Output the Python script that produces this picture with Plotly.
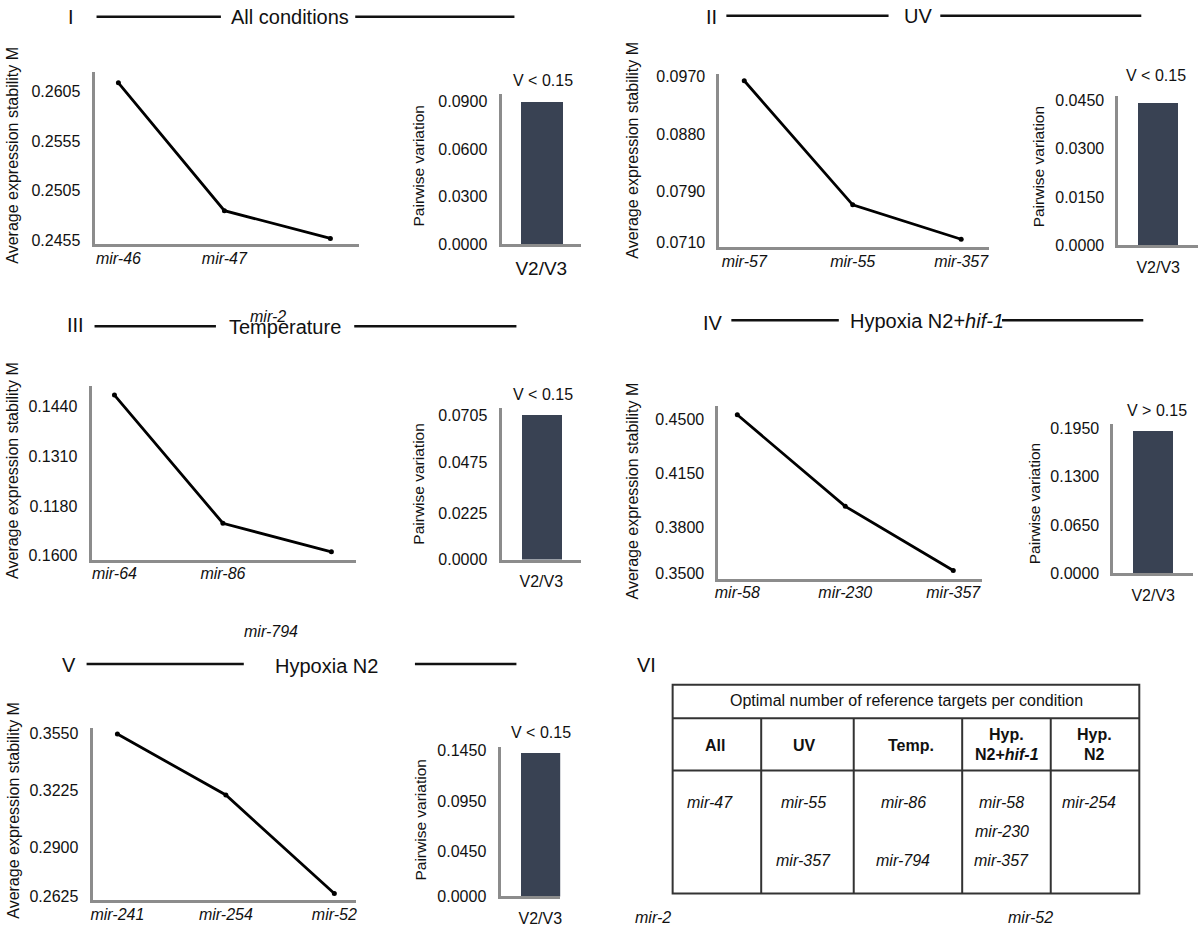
import plotly.graph_objects as go

W, H = 1200, 937
FONT = "Liberation Sans, Arial, Helvetica, sans-serif"

# ---------------- data ----------------
# Panel I - All conditions
genes_I = ["mir-46", "mir-47", "mir-2"]
M_I = [0.2614, 0.2485, 0.2457]
Mticks_I = [0.2455, 0.2505, 0.2555, 0.2605]
Mticklabels_I = ["0.2455", "0.2505", "0.2555", "0.2605"]
V_I = [0.0902]
Vticks_I = [0.0, 0.03, 0.06, 0.09]

# Panel II - UV
genes_II = ["mir-57", "mir-55", "mir-357"]
M_II = [0.0964, 0.0769, 0.0715]
Mticks_II = [0.0710, 0.0790, 0.0880, 0.0970]
Mticklabels_II = ["0.0710", "0.0790", "0.0880", "0.0970"]
V_II = [0.0444]
Vticks_II = [0.0, 0.015, 0.03, 0.045]

# Panel III - Temperature
genes_III = ["mir-64", "mir-86", "mir-794"]
M_III = [0.1471, 0.1135, 0.1060]
Mticks_III = [0.105, 0.118, 0.131, 0.144]
Mticklabels_III = ["0.1600", "0.1180", "0.1310", "0.1440"]
V_III = [0.0708]
Vticks_III = [0.0, 0.0225, 0.0475, 0.0705]

# Panel IV - Hypoxia N2+hif-1
genes_IV = ["mir-58", "mir-230", "mir-357"]
M_IV = [0.4532, 0.3936, 0.3519]
Mticks_IV = [0.35, 0.38, 0.415, 0.45]
Mticklabels_IV = ["0.3500", "0.3800", "0.4150", "0.4500"]
V_IV = [0.1923]
Vticks_IV = [0.0, 0.065, 0.13, 0.195]

# Panel V - Hypoxia N2
genes_V = ["mir-241", "mir-254", "mir-52"]
M_V = [0.3544, 0.3199, 0.2642]
Mticks_V = [0.2625, 0.29, 0.3225, 0.355]
Mticklabels_V = ["0.2625", "0.2900", "0.3225", "0.3550"]
V_V = [0.1430]
Vticks_V = [0.0, 0.045, 0.095, 0.145]

pair_cat = ["V2/V3"]
thresholds = ["V < 0.15", "V < 0.15", "V < 0.15", "V > 0.15", "V < 0.15"]

# Panel VI - table
table_title = "Optimal number of reference targets per condition"
table_cols = ["All", "UV", "Temp.", "Hyp.|N2+<i>hif-1</i>", "Hyp.|N2"]
table_rows = [["mir-47"], ["mir-55", "", "mir-357"], ["mir-86", "", "mir-794"],
              ["mir-58", "mir-230", "mir-357"], ["mir-254"]]

# ---------------- helpers ----------------
def X(p):
    return p / W

def Y(p):
    return 1 - p / H

AX_COL = "#8c8c8c"
TXT = "#111111"
BAR_COL = "#394253"

fig = go.Figure()
annotations = []
shapes = []

def ann(text, x, y, size=16, angle=0, xanchor="center", italic=False, bold=False):
    if italic:
        text = "<i>" + text + "</i>"
    if bold:
        text = "<b>" + text + "</b>"
    annotations.append(dict(text=text, x=X(x), y=Y(y), xref="paper", yref="paper",
                            showarrow=False, xanchor=xanchor, yanchor="middle",
                            textangle=angle, font=dict(family=FONT, size=size, color=TXT)))

def hline(x0, x1, y, width=2.5, color="#111111"):
    shapes.append(dict(type="line", xref="paper", yref="paper", x0=X(x0), x1=X(x1),
                       y0=Y(y), y1=Y(y), line=dict(color=color, width=width)))

def vline(x, y0, y1, width=2, color="#333333"):
    shapes.append(dict(type="line", xref="paper", yref="paper", x0=X(x), x1=X(x),
                       y0=Y(y0), y1=Y(y1), line=dict(color=color, width=width)))

panels = [
    dict(genes=genes_I, M=M_I, Mt=Mticks_I, Mtl=Mticklabels_I, V=V_I, Vt=Vticks_I,
         show_third=False,
         line_dom=(91, 357, 68, 243), line_xr=(-0.225, 2.272), line_yr=(0.24510, 0.26249),
         bar_dom=(500, 580, 90, 243), bar_xr=(-0.5, 0.5), bar_yr=(0, 0.0950), bar_w=0.525,
         v2font=19),
    dict(genes=genes_II, M=M_II, Mt=Mticks_II, Mtl=Mticklabels_II, V=V_II, Vt=Vticks_II,
         show_third=True,
         line_dom=(719, 990, 70, 246), line_xr=(-0.229, 2.257), line_yr=(0.07023, 0.09746),
         bar_dom=(1120, 1200, 92, 244), bar_xr=(-0.5, 0.5), bar_yr=(0, 0.04653), bar_w=0.5,
         v2font=16),
    dict(genes=genes_III, M=M_III, Mt=Mticks_III, Mtl=Mticklabels_III, V=V_III, Vt=Vticks_III,
         show_third=False,
         line_dom=(88, 354, 387, 563), line_xr=(-0.211, 2.229), line_yr=(0.10397, 0.14942),
         bar_dom=(500, 580, 409, 563), bar_xr=(-0.5, 0.5), bar_yr=(0, 0.07436), bar_w=0.51,
         v2font=16),
    dict(genes=genes_IV, M=M_IV, Mt=Mticks_IV, Mtl=Mticklabels_IV, V=V_IV, Vt=Vticks_IV,
         show_third=True,
         line_dom=(718, 983, 407, 583), line_xr=(-0.175, 2.267), line_yr=(0.34615, 0.45897),
         bar_dom=(1115, 1195, 425, 577), bar_xr=(-0.5, 0.5), bar_yr=(0, 0.2016), bar_w=0.5,
         v2font=16),
    dict(genes=genes_V, M=M_V, Mt=Mticks_V, Mtl=Mticklabels_V, V=V_V, Vt=Vticks_V,
         show_third=True,
         line_dom=(89, 354, 734, 909), line_xr=(-0.229, 2.202), line_yr=(0.26027, 0.35779),
         bar_dom=(499, 559, 753, 905), bar_xr=(-0.5, 0.25), bar_yr=(0, 0.1489), bar_w=0.5,
         v2font=16),
]

layout_axes = {}
ax = 1
for i, p in enumerate(panels):
    # ---- line chart ----
    xs = list(range(len(p["genes"])))
    ticktext = ["<i>%s</i>" % g for g in p["genes"]]
    if not p["show_third"]:
        ticktext[-1] = ""
    fig.add_trace(go.Scatter(x=xs, y=p["M"], mode="lines+markers",
                             line=dict(color="#000000", width=2.8),
                             marker=dict(color="#000000", size=5),
                             xaxis="x%d" % ax, yaxis="y%d" % ax, showlegend=False,
                             cliponaxis=False))
    x0, x1, y0, y1 = p["line_dom"]
    layout_axes["xaxis%d" % ax] = dict(domain=[X(x0), X(x1)], anchor="y%d" % ax,
                                       range=list(p["line_xr"]), tickvals=xs, ticktext=ticktext,
                                       showline=True, linecolor=AX_COL, linewidth=3,
                                       showgrid=False, zeroline=False, ticks="",
                                       ticklabelstandoff=-3,
                                       tickfont=dict(family=FONT, size=16, color=TXT))
    layout_axes["yaxis%d" % ax] = dict(domain=[Y(y1), Y(y0)], anchor="x%d" % ax,
                                       range=list(p["line_yr"]), tickvals=p["Mt"], ticktext=p["Mtl"],
                                       showline=True, linecolor=AX_COL, linewidth=3,
                                       showgrid=False, zeroline=False, ticks="",
                                       ticklabelstandoff=8,
                                       tickfont=dict(family=FONT, size=16, color=TXT))
    ax += 1
    # ---- bar chart ----
    fig.add_trace(go.Bar(x=[0], y=p["V"], width=p["bar_w"], marker=dict(color=BAR_COL, line=dict(width=0)),
                         xaxis="x%d" % ax, yaxis="y%d" % ax, showlegend=False))
    x0, x1, y0, y1 = p["bar_dom"]
    layout_axes["xaxis%d" % ax] = dict(domain=[X(x0), X(x1)], anchor="y%d" % ax,
                                       range=list(p["bar_xr"]), tickvals=[0], ticktext=pair_cat,
                                       showline=True, linecolor=AX_COL, linewidth=3,
                                       showgrid=False, zeroline=False, ticks="",
                                       ticklabelstandoff=5,
                                       tickfont=dict(family=FONT, size=p["v2font"], color=TXT))
    layout_axes["yaxis%d" % ax] = dict(domain=[Y(y1), Y(y0)], anchor="x%d" % ax,
                                       range=list(p["bar_yr"]), tickvals=p["Vt"], tickformat=".4f",
                                       showline=True, linecolor=AX_COL, linewidth=3,
                                       showgrid=False, zeroline=False, ticks="",
                                       ticklabelstandoff=8,
                                       tickfont=dict(family=FONT, size=16, color=TXT))
    ax += 1

# ---------------- panel headers ----------------
# I
ann("I", 67, 12, 20); hline(93, 218, 12); ann("All conditions", 287, 12, 20); hline(353, 513, 12)
# II
ann("II", 711, 12, 20); hline(726, 889, 11); ann("UV", 919, 11, 20); hline(941, 1143, 11)
# III
ann("III", 72, 325, 20); hline(91, 213, 326); ann("Temperature", 282, 327, 20); hline(352, 515, 326)
# IV
ann("IV", 713, 323, 20); hline(731, 839, 320); ann("Hypoxia N2+<i>hif-1</i>", 928, 321, 20); hline(1003, 1145, 320)
# V
ann("V", 65, 670, 20); hline(83, 241, 669); ann("Hypoxia N2", 324, 671, 20); hline(413, 515, 669)
# VI
ann("VI", 646, 670, 20)

# axis titles
for (x, y) in [(9, 152), (632, 147), (9, 472), (632, 493), (10, 817)]:
    ann("Average expression stability M", x, y, 16, angle=-90)
for (x, y) in [(417, 163), (1040, 164), (417, 486), (1036, 506), (419, 827)]:
    ann("Pairwise variation", x, y, 15.5, angle=-90)
# thresholds
for t, (x, y) in zip(thresholds, [(542, 77), (1158, 72), (542, 395), (1159, 412), (540, 739)]):
    ann(t, x, y, 16)

# stray labels present in the original figure
ann("mir-2", 265, 316, 16, italic=True)
ann("mir-794", 268, 636, 16, italic=True)
ann("mir-2", 652, 926, 16, italic=True)
ann("mir-52", 1032, 926, 16, italic=True)

# ---------------- table (panel VI) ----------------
TL, TR, TT, TB = 672, 1141, 690, 902
shapes.append(dict(type="rect", xref="paper", yref="paper", x0=X(TL), x1=X(TR), y0=Y(TB), y1=Y(TT),
                   line=dict(color="#333333", width=2)))
hline(TL, TR, 724, 2, "#333333")
hline(TL, TR, 777, 2, "#333333")
for vx in [761, 854, 963, 1052]:
    vline(vx, 724, TB)
ann(table_title, 907, 706, 16)
col_x = [715, 805, 912, 1008, 1096]
for cx, c in zip(col_x, table_cols):
    parts = c.split("|")
    if len(parts) == 1:
        ann(parts[0], cx, 752, 16, bold=True)
    else:
        ann(parts[0], cx, 741, 16, bold=True)
        ann(parts[1], cx, 761, 16, bold=True)
body_x = [710, 804, 904, 1003, 1090]
row_y = [810, 839, 868]
for bx, items in zip(body_x, table_rows):
    for ry, it in zip(row_y, items):
        if it:
            ann(it, bx, ry, 16, italic=True)

fig.update_layout(width=W, height=H, autosize=False,
                  margin=dict(l=0, r=0, t=0, b=0),
                  paper_bgcolor="white", plot_bgcolor="white",
                  showlegend=False, bargap=0,
                  annotations=annotations, shapes=shapes,
                  font=dict(family=FONT, color=TXT),
                  **layout_axes)

fig.write_html("out.html",
               config={"displayModeBar": False},
               post_script="document.body.style.margin='0';document.body.style.overflow='hidden';")
